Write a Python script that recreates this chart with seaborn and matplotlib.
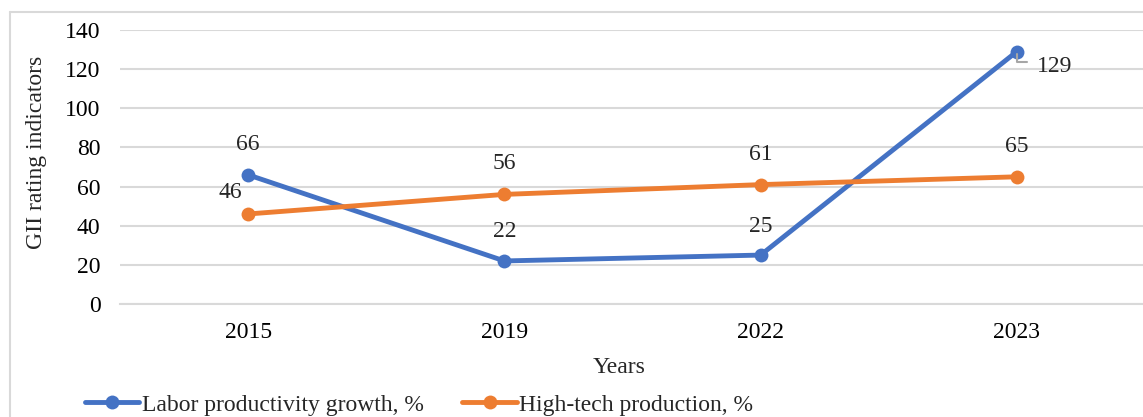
import pandas as pd
import matplotlib.pyplot as plt
import seaborn as sns
from matplotlib.lines import Line2D

# Data
years = ['2015', '2019', '2022', '2023']
labor_growth = [66, 22, 25, 129]
hightech = [46, 56, 61, 65]
series_names = ['Labor productivity growth, %', 'High-tech production, %']
colors = ['#4472C4', '#ED7D31']

# label offsets in pixels (dx, dy), per point
labor_offsets = [(0, 30), (0, 29), (0, 29), (38, -15)]
hightech_offsets = [(-18, 21), (0, 31), (0, 30), (0, 30)]

df = pd.DataFrame({
    'Years': years * 2,
    'value': labor_growth + hightech,
    'series': [series_names[0]] * 4 + [series_names[1]] * 4,
})

sns.set_style('white')
plt.rcParams['font.family'] = ['Liberation Serif', 'DejaVu Serif']
FS = 17

fig = plt.figure(figsize=(11.43, 4.17), dpi=100)
ax = fig.add_axes([120 / 1143, 1 - 304 / 417, 1025 / 1143, 274 / 417])

sns.lineplot(data=df, x='Years', y='value', hue='series', palette=colors,
             marker='o', markersize=10, markeredgewidth=0, linewidth=3.5,
             sort=False, ax=ax, legend=False)

ax.set_xlim(-0.5, 3.5)
ax.set_ylim(0, 140)
ax.set_yticks(range(0, 141, 20))
ax.yaxis.grid(True, color='#D9D9D9', linewidth=1.5)
ax.set_axisbelow(True)
for s in ['top', 'right', 'left']:
    ax.spines[s].set_visible(False)
ax.spines['bottom'].set_color('#D9D9D9')
ax.spines['bottom'].set_linewidth(1.5)
ax.tick_params(axis='both', length=0, labelsize=FS, colors='black')
ax.tick_params(axis='x', pad=13)
ax.tick_params(axis='y', pad=14)
ax.set_xlabel('Years', fontsize=FS)
ax.xaxis.set_label_coords((619 - 120) / 1025, -(357 - 304) / 274)
ax.set_ylabel('GII rating indicators', fontsize=FS)
ax.yaxis.set_label_coords((47 - 120) / 1025, (304 - 152) / 274)

# data labels
pt = 72 / fig.dpi
for i, v in enumerate(labor_growth):
    dx, dy = labor_offsets[i]
    if i == 3:
        ax.annotate(str(v), (i, v), xytext=(dx * pt, dy * pt), textcoords='offset points',
                    ha='center', va='center', fontsize=FS,
                    arrowprops=dict(arrowstyle='-', color='#A6A6A6', lw=1.5,
                                    relpos=(0, 0.7), shrinkA=5, shrinkB=2,
                                    connectionstyle='angle,angleA=0,angleB=90,rad=0'))
    else:
        ax.annotate(str(v), (i, v), xytext=(dx * pt, dy * pt), textcoords='offset points',
                    ha='center', va='center', fontsize=FS)
for i, v in enumerate(hightech):
    dx, dy = hightech_offsets[i]
    ax.annotate(str(v), (i, v), xytext=(dx * pt, dy * pt), textcoords='offset points',
                ha='center', va='center', fontsize=FS)

# legend at bottom (partly cut off like the original)
handles = [Line2D([], [], color=c, marker='o', markersize=10, markeredgewidth=0, linewidth=3.5)
           for c in colors]
fig.legend(handles, series_names, loc='center left', bbox_to_anchor=(85 / 1143, 1 - 405 / 417),
           ncol=2, frameon=False, fontsize=FS, handlelength=2.3, handletextpad=0.1,
           columnspacing=1.65, borderaxespad=0, borderpad=0)

# chart area border
fig.add_artist(Line2D([10 / 1143, 10 / 1143], [0, 1 - 12 / 417], transform=fig.transFigure,
                      color='#D9D9D9', linewidth=1.5))
fig.add_artist(Line2D([10 / 1143, 1], [1 - 12 / 417, 1 - 12 / 417], transform=fig.transFigure,
                      color='#D9D9D9', linewidth=1.5))

fig.savefig('out.png', dpi=100)
